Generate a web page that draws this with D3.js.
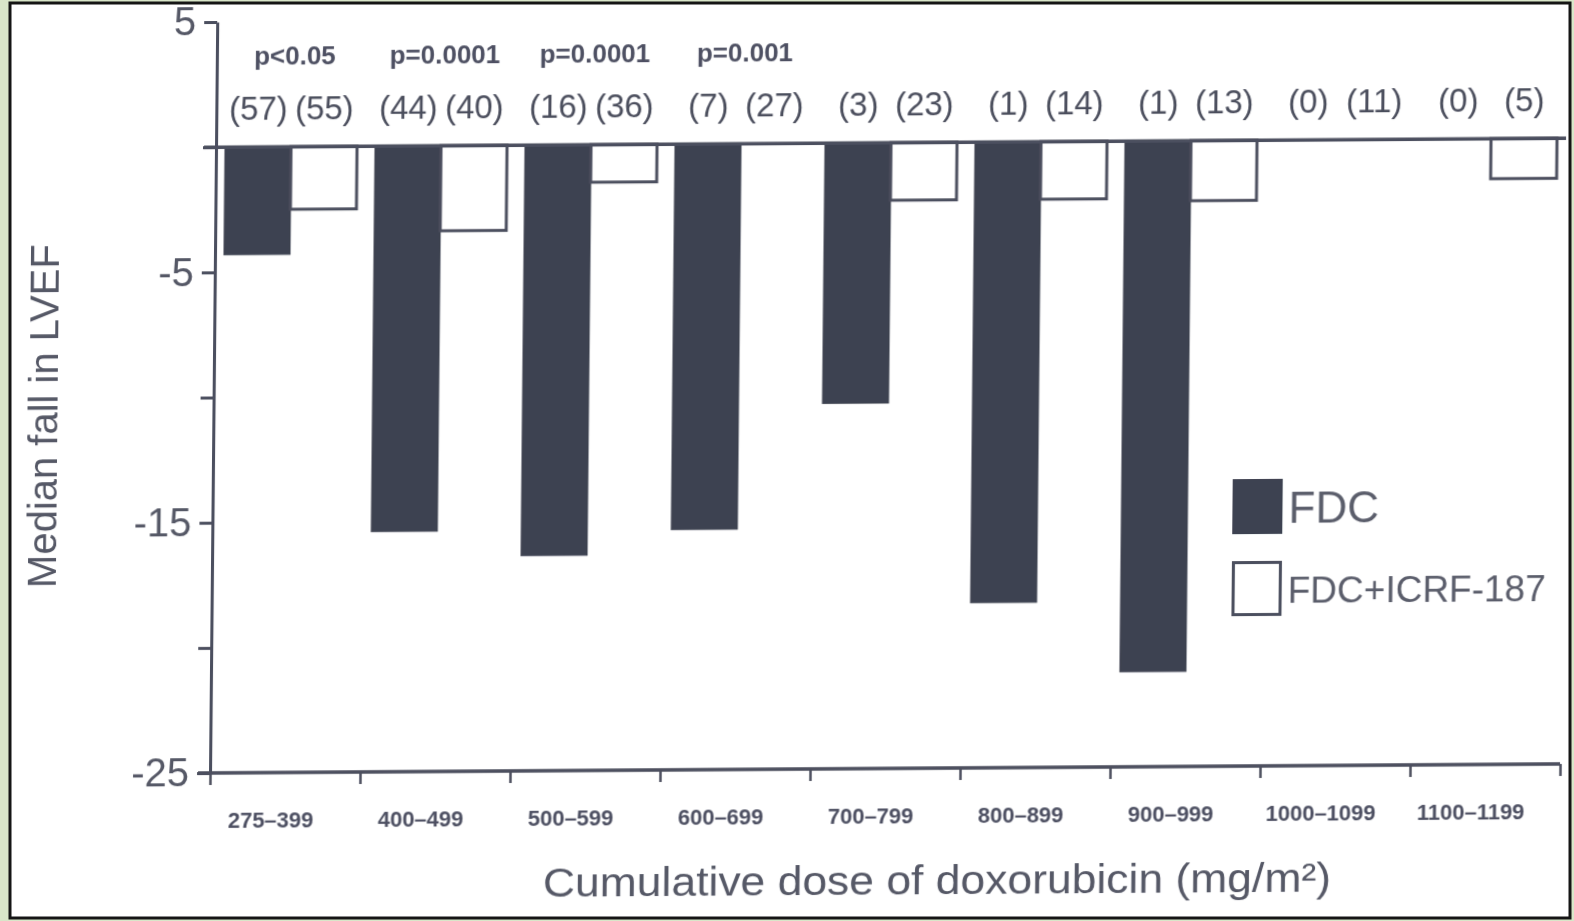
<!DOCTYPE html>
<html>
<head>
<meta charset="utf-8">
<script src="https://cdn.jsdelivr.net/npm/d3@7"></script>
<style>
  html, body { margin: 0; padding: 0; background: #d9e6c9; }
  svg { display: block; }
  text { font-family: "Liberation Sans", Arial, sans-serif; }
</style>
</head>
<body>
<svg id="chart" width="1574" height="921"></svg>
<script>
// Dose groups (cumulative doxorubicin, mg/m²)
const doseGroups = ["275–399", "400–499", "500–599", "600–699", "700–799",
                    "800–899", "900–999", "1000–1099", "1100–1199"];
const seriesNames = ["FDC", "FDC+ICRF-187"];

// Median fall in LVEF per group (null = no patients)
const fdcFall  = [-4.3, -15.4, -16.4, -15.4, -10.4, -18.4, -21.2, null, null];
const icrfFall = [-2.5, -3.4, -1.5, 0, -2.3, -2.3, -2.4, 0, -1.6];

// Number of patients per group
const fdcN  = [57, 44, 16, 7, 3, 1, 1, 0, 0];
const icrfN = [55, 40, 36, 27, 23, 14, 13, 11, 5];

// Significance between arms
const pValues = ["p<0.05", "p=0.0001", "p=0.0001", "p=0.001", null, null, null, null, null];

// Y axis ticks
const yTickValues = [5, 0, -5, -10, -15, -20, -25];
const yTickLabels = [5, -5, -15, -25];

const ink = "#4c4f5e";
const barDark = "#3e4251";

const svg = d3.select("#chart");

// paper panel with dark frame
svg.append("rect").attr("x", 10).attr("y", 3).attr("width", 1560).attr("height", 915)
  .attr("fill", "#ffffff").attr("stroke", "#151515").attr("stroke-width", 3);

const defs = svg.append("defs");
defs.append("filter").attr("id", "soft")
  .append("feGaussianBlur").attr("stdDeviation", 0.55);

// the printed figure sits slightly askew on the page
const g = svg.append("g")
  .attr("filter", "url(#soft)")
  .attr("transform", "translate(216,147) matrix(1,-0.0067,-0.0096,1,0,0) translate(-216,-147)");

const y = d3.scaleLinear().domain([-25, 5]).range([773, 22]);
const x = d3.scaleBand().domain(doseGroups).range([216, 1566]).padding(0);
const xInner = d3.scaleBand().domain(seriesNames)
  .range([x.bandwidth() * 0.06, x.bandwidth() * 0.94]).padding(0);
const xEdge = d3.scaleLinear().domain([0, doseGroups.length]).range(x.range());

// Y axis
const yAxis = d3.axisLeft(y)
  .tickValues(yTickValues)
  .tickSize(13)
  .tickSizeOuter(0)
  .tickPadding(8)
  .tickFormat(d => yTickLabels.includes(d) ? (d < 0 ? "-" + Math.abs(d) : d) : "");
const yg = g.append("g").attr("transform", "translate(216,0)").call(yAxis);
yg.select(".domain").attr("stroke", ink).attr("stroke-width", 3);
yg.selectAll(".tick line").attr("stroke", ink).attr("stroke-width", 3);
yg.selectAll(".tick text").attr("fill", "#555866").attr("font-size", 40)
  .attr("font-family", "Liberation Sans, Arial, sans-serif");

// Bottom axis with ticks at group boundaries
const xAxis = d3.axisBottom(xEdge).ticks(doseGroups.length).tickSize(12)
  .tickSizeOuter(0).tickFormat("");
const xg = g.append("g").attr("transform", `translate(0,${y(-25)})`).call(xAxis);
xg.select(".domain").attr("stroke", ink).attr("stroke-width", 3.5)
  .attr("d", `M204,0H${x.range()[1]}`);
xg.selectAll(".tick line").attr("stroke", ink).attr("stroke-width", 2.5);

// Dose labels
g.append("g").selectAll("text").data(doseGroups).join("text")
  .attr("x", d => x(d) + x.bandwidth() / 2 - 14)
  .attr("y", y(-25) + 55)
  .attr("text-anchor", "middle")
  .attr("font-size", 22).attr("font-weight", "bold")
  .attr("fill", "#4d5062")
  .text(d => d);

// Bars
const rows = doseGroups.map((d, i) => ({ group: d, values: [fdcFall[i], icrfFall[i]], n: [fdcN[i], icrfN[i]], p: pValues[i] }));

const grp = g.append("g").selectAll("g").data(rows).join("g")
  .attr("transform", d => `translate(${x(d.group)},0)`);

grp.selectAll("rect")
  .data(d => d.values.map((v, k) => ({ series: seriesNames[k], v })).filter(e => e.v !== null && e.v !== 0))
  .join("rect")
  .attr("x", e => xInner(e.series))
  .attr("y", y(0))
  .attr("width", xInner.bandwidth())
  .attr("height", e => y(e.v) - y(0))
  .attr("fill", e => e.series === "FDC" ? barDark : "#ffffff")
  .attr("stroke", e => e.series === "FDC" ? barDark : ink)
  .attr("stroke-width", e => e.series === "FDC" ? 1 : 3);

// Patient counts above each bar
grp.selectAll("text.count")
  .data(d => d.n.map((n, k) => ({ series: seriesNames[k], n })))
  .join("text").attr("class", "count")
  .attr("x", e => xInner(e.series) + xInner.bandwidth() / 2)
  .attr("y", 120)
  .attr("text-anchor", "middle")
  .attr("font-size", 33)
  .attr("fill", "#4a4d5c")
  .text(e => `(${e.n})`);

// p-values
grp.filter(d => d.p).append("text")
  .attr("x", x.bandwidth() / 2 + 3)
  .attr("y", 65)
  .attr("text-anchor", "middle")
  .attr("font-size", 26).attr("font-weight", "bold")
  .attr("fill", "#4d5062")
  .text(d => d.p);

// Zero line
g.append("line")
  .attr("x1", 204).attr("x2", x.range()[1])
  .attr("y1", y(0)).attr("y2", y(0))
  .attr("stroke", ink).attr("stroke-width", 3.5);

// Axis titles
g.append("text")
  .attr("transform", `translate(60,415) rotate(-90)`)
  .attr("text-anchor", "middle")
  .attr("font-size", 40)
  .attr("fill", "#555866")
  .text("Median fall in LVEF");

g.append("text")
  .attr("x", 944).attr("y", 899)
  .attr("text-anchor", "middle")
  .attr("font-size", 41)
  .attr("textLength", 788).attr("lengthAdjust", "spacingAndGlyphs")
  .attr("fill", "#555866")
  .text("Cumulative dose of doxorubicin (mg/m²)");

// Legend
const legend = g.append("g").attr("transform", "translate(1236,486)");
const legendItems = legend.selectAll("g").data(seriesNames).join("g")
  .attr("transform", (d, i) => `translate(0,${i * 82})`);
legendItems.append("rect")
  .attr("x", 1.5).attr("y", 1.5).attr("width", 47).attr("height", 52)
  .attr("fill", (d, i) => i === 0 ? barDark : "#ffffff")
  .attr("stroke", (d, i) => i === 0 ? barDark : ink)
  .attr("stroke-width", 3);
legendItems.append("text")
  .attr("x", 56).attr("y", (d, i) => i === 0 ? 44 : 42)
  // the longer label is set smaller so it stays inside the frame
  .attr("font-size", (d, i) => i === 0 ? 44 : 37)
  .attr("fill", "#5a5d6b")
  .text(d => d);
</script>
</body>
</html>
